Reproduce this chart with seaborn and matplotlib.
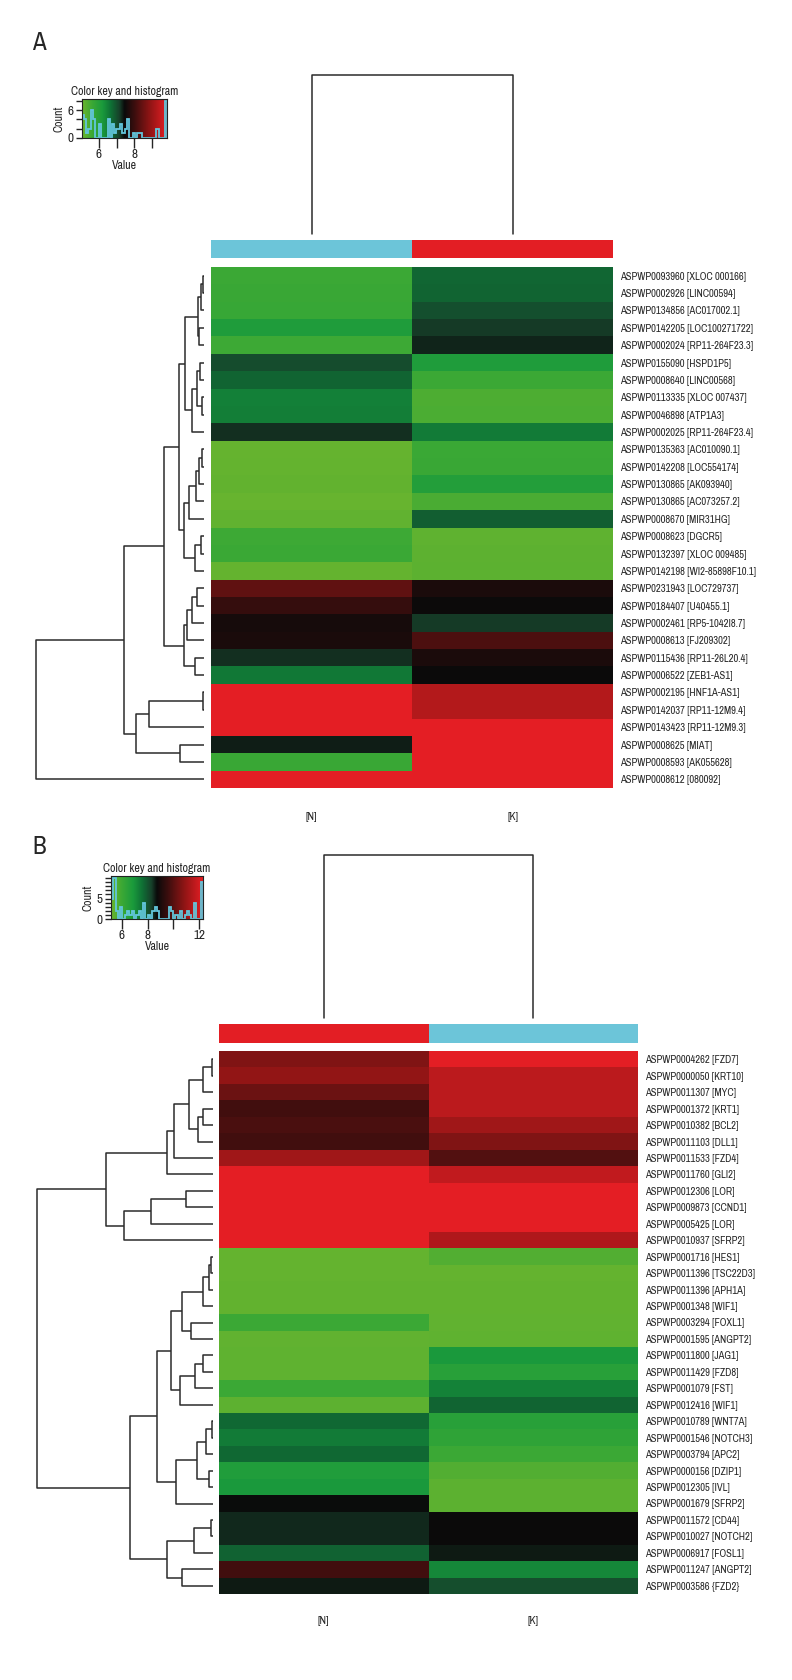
import numpy as np
import pandas as pd
import seaborn as sns
import matplotlib.pyplot as plt
from matplotlib.colors import LinearSegmentedColormap
from matplotlib import font_manager

# ---------------- data: panel A ----------------
labels_a = [
    "ASPWP0093960 [XLOC 000166]", "ASPWP0002926 [LINC00594]", "ASPWP0134856 [AC017002.1]",
    "ASPWP0142205 [LOC100271722]", "ASPWP0002024 [RP11-264F23.3]", "ASPWP0155090 [HSPD1P5]",
    "ASPWP0008640 [LINC00568]", "ASPWP0113335 [XLOC 007437]", "ASPWP0046898 [ATP1A3]",
    "ASPWP0002025 [RP11-264F23.4]", "ASPWP0135363 [AC010090.1]", "ASPWP0142208 [LOC554174]",
    "ASPWP0130865 [AK093940]", "ASPWP0130865 [AC073257.2]", "ASPWP0008670 [MIR31HG]",
    "ASPWP0008623 [DGCR5]", "ASPWP0132397 [XLOC 009485]", "ASPWP0142198 [WI2-85898F10.1]",
    "ASPWP0231943 [LOC729737]", "ASPWP0184407 [U40455.1]", "ASPWP0002461 [RP5-1042I8.7]",
    "ASPWP0008613 [FJ209302]", "ASPWP0115436 [RP11-26L20.4]", "ASPWP0006522 [ZEB1-AS1]",
    "ASPWP0002195 [HNF1A-AS1]", "ASPWP0142037 [RP11-12M9.4]", "ASPWP0143423 [RP11-12M9.3]",
    "ASPWP0008625 [MIAT]", "ASPWP0008593 [AK055628]", "ASPWP0008612 [080092]",
]
cols_a = ["[N]", "[K]"]
n_a = [5.62, 5.65, 5.68, 6.10, 5.60, 7.05, 6.80, 6.50, 6.52, 7.25,
       5.12, 5.14, 5.16, 5.10, 5.18, 5.60, 5.63, 5.15, 8.40, 7.95,
       7.60, 7.62, 7.25, 6.60, 9.86, 9.86, 9.86, 7.35, 5.66, 9.86]
k_a = [6.78, 6.80, 7.00, 7.20, 7.30, 6.10, 5.62, 5.40, 5.42, 6.55,
       5.64, 5.66, 6.05, 5.45, 6.85, 5.20, 5.22, 5.24, 7.64, 7.47,
       7.20, 8.20, 7.65, 7.45, 9.28, 9.28, 9.86, 9.86, 9.86, 9.86]
col_colors_a = ["#6cc5d9", "#e31e24"]
# row linkage: (child a, child b, height); leaves are rows in display order
link_a = [(0, 1, 3), (30, 2, 8), (3, 4, 16), (31, 32, 18), (5, 6, 12), (7, 8, 5),
          (34, 35, 22), (36, 9, 37), (33, 37, 57), (10, 11, 5), (39, 12, 16), (40, 13, 24),
          (41, 14, 44), (15, 16, 8), (43, 17, 27), (42, 44, 59), (38, 45, 74), (18, 19, 22),
          (47, 20, 37), (48, 21, 50), (22, 23, 28), (49, 50, 61), (46, 51, 120), (24, 25, 2),
          (53, 26, 165), (27, 28, 72), (54, 55, 204), (52, 56, 241), (57, 29, 505)]
col_link_a = [(0, 1, 1.0)]
range_a = (5.04, 9.86)

# ---------------- data: panel B ----------------
labels_b = [
    "ASPWP0004262 [FZD7]", "ASPWP0000050 [KRT10]", "ASPWP0011307 [MYC]", "ASPWP0001372 [KRT1]",
    "ASPWP0010382 [BCL2]", "ASPWP0011103 [DLL1]", "ASPWP0011533 [FZD4]", "ASPWP0011760 [GLI2]",
    "ASPWP0012306 [LOR]", "ASPWP0009873 [CCND1]", "ASPWP0005425 [LOR]", "ASPWP0010937 [SFRP2]",
    "ASPWP0001716 [HES1]", "ASPWP0011396 [TSC22D3]", "ASPWP0011396 [APH1A]", "ASPWP0001348 [WIF1]",
    "ASPWP0003294 [FOXL1]", "ASPWP0001595 [ANGPT2]", "ASPWP0011800 [JAG1]", "ASPWP0011429 [FZD8]",
    "ASPWP0001079 [FST]", "ASPWP0012416 [WIF1]", "ASPWP0010789 [WNT7A]", "ASPWP0001546 [NOTCH3]",
    "ASPWP0003794 [APC2]", "ASPWP0000156 [DZIP1]", "ASPWP0012305 [IVL]", "ASPWP0001679 [SFRP2]",
    "ASPWP0011572 [CD44]", "ASPWP0010027 [NOTCH2]", "ASPWP0006917 [FOSL1]", "ASPWP0011247 [ANGPT2]",
    "ASPWP0003586 {FZD2}",
]
cols_b = ["[N]", "[K]"]
n_b = [10.6, 10.9, 10.3, 9.65, 9.80, 9.65, 11.15, 12.3, 12.3, 12.3, 12.3, 12.3,
       5.30, 5.30, 5.32, 5.34, 6.00, 5.36, 5.38, 5.40, 6.00, 5.42,
       7.70, 7.40, 7.70, 6.70, 6.90, 8.70, 8.50, 8.50, 7.80, 9.65, 8.60]
k_b = [12.3, 11.6, 11.6, 11.6, 11.15, 10.6, 9.90, 11.7, 12.3, 12.3, 12.3, 11.4,
       5.60, 5.30, 5.32, 5.34, 5.36, 5.38, 6.90, 6.50, 7.30, 7.75,
       6.50, 6.30, 6.00, 5.60, 5.45, 5.45, 8.75, 8.75, 8.60, 7.20, 8.10]
col_colors_b = ["#e31e24", "#6cc5d9"]
link_b = [(0, 1, 2), (33, 2, 31), (3, 4, 31), (35, 5, 46), (34, 36, 73), (37, 6, 116),
          (38, 7, 138), (8, 9, 82), (40, 10, 186), (41, 11, 266), (39, 42, 321),
          (12, 13, 6), (44, 14, 13), (45, 15, 31), (16, 17, 66), (46, 47, 92),
          (18, 19, 31), (49, 20, 53), (50, 21, 98), (48, 51, 126), (22, 23, 2),
          (53, 24, 21), (25, 26, 13), (54, 55, 48), (56, 27, 110), (52, 57, 168),
          (28, 29, 6), (59, 30, 58), (31, 32, 92), (60, 61, 138), (58, 62, 250), (43, 63, 527)]
col_link_b = [(0, 1, 1.0)]
range_b = (5.15, 12.3)

# ---------------- style ----------------
sns.set_style("white")
fonts = font_manager.fontManager.ttflist
narrow = [f for f in fonts if "Narrow" in f.name or "Condensed" in f.name]
cond = [f for f in fonts if f.stretch in ("condensed", "semi-condensed", 500, 400)
        and f.name in ("DejaVu Sans", "Noto Sans", "Roboto", "Open Sans")]
LBL = 7.6
if narrow:
    plt.rcParams["font.family"] = [narrow[0].name, "DejaVu Sans"]
elif cond:
    plt.rcParams["font.family"] = [cond[0].name, "DejaVu Sans"]
    plt.rcParams["font.stretch"] = "condensed"
else:
    plt.rcParams["font.family"] = ["DejaVu Sans"]
    LBL = 6.3

cmap = LinearSegmentedColormap.from_list("gkr", [
    (0.0, "#6cb52e"), (0.12, "#3aa835"), (0.24, "#1a9a3c"), (0.34, "#0f7035"),
    (0.44, "#17402a"), (0.5, "#0a0a0a"), (0.62, "#3c0e0e"), (0.8, "#901515"),
    (1.0, "#e41e24")])
LINE = "#2b2b2b"
W, H = 792, 1680


def box(x0, y0, x1, y1):
    return [x0 / W, 1 - y1 / H, (x1 - x0) / W, (y1 - y0) / H]


def dendro_segments(links, n):
    pos = {i: i + 0.5 for i in range(n)}
    hgt = {i: 0.0 for i in range(n)}
    segs = []
    for k, (a, b, h) in enumerate(links):
        segs.append(([hgt[a], h, h, hgt[b]], [pos[a], pos[a], pos[b], pos[b]]))
        pos[n + k] = (pos[a] + pos[b]) / 2
        hgt[n + k] = h
    return segs, links[-1][2]


def panel(fig, letter, letter_xy, labels, cols, n_vals, k_vals, col_colors, link, col_link,
          vrange, key_box, key_xticks, key_xlabels, key_ystep, key_ylabels,
          cdend_box, cbar_box, heat_box, rdend_box, xpad):
    df = pd.DataFrame({cols[0]: n_vals, cols[1]: k_vals}, index=labels)
    vmin, vmax = vrange

    fig.text(letter_xy[0] / W, 1 - letter_xy[1] / H, letter, fontsize=18, ha="center", va="center")

    # heatmap
    ax = fig.add_axes(box(*heat_box))
    sns.heatmap(df, ax=ax, cmap=cmap, vmin=vmin, vmax=vmax, cbar=False,
                xticklabels=cols, yticklabels=labels)
    ax.yaxis.tick_right()
    ax.tick_params(axis="y", length=0, pad=5, labelsize=LBL, rotation=0)
    ax.tick_params(axis="x", length=0, pad=xpad, labelsize=LBL + 0.4, rotation=0)
    ax.set_xlabel("")
    ax.set_ylabel("")

    # column side colours
    axc = fig.add_axes(box(*cbar_box))
    for i, c in enumerate(col_colors):
        axc.axvspan(i, i + 1, color=c, lw=0)
    axc.set_xlim(0, len(col_colors))
    axc.axis("off")

    # row dendrogram
    axr = fig.add_axes(box(*rdend_box))
    segs, top = dendro_segments(link, len(labels))
    for hs, ps in segs:
        axr.plot(hs, ps, color=LINE, lw=1.1, clip_on=False, solid_capstyle="butt")
    axr.set_xlim(top, 0)
    axr.set_ylim(len(labels), 0)
    axr.axis("off")

    # column dendrogram
    axd = fig.add_axes(box(*cdend_box))
    segs, top = dendro_segments(col_link, len(cols))
    for hs, ps in segs:
        axd.plot(ps, hs, color=LINE, lw=1.1, clip_on=False)
    axd.set_xlim(0, len(cols))
    axd.set_ylim(0, top)
    axd.axis("off")

    # colour key with histogram
    axk = fig.add_axes(box(*key_box))
    allv = np.concatenate([n_vals, k_vals])
    counts, edges = np.histogram(allv, bins=np.linspace(vmin, vmax, 41))
    ytop = counts.max() / 0.95
    grad = np.linspace(vmin, vmax, 256)[np.newaxis, :]
    axk.imshow(grad, extent=[vmin, vmax, 0, ytop], aspect="auto", cmap=cmap,
               vmin=vmin, vmax=vmax)
    axk.stairs(counts, edges, color="#63c6dc", lw=1.3, baseline=0)
    axk.set_xlim(vmin, vmax)
    axk.set_ylim(0, ytop)
    axk.set_xticks(key_xticks)
    axk.set_xticklabels(key_xlabels)
    yt = np.arange(0, counts.max() + 1, key_ystep)
    axk.set_yticks(yt)
    axk.set_yticklabels([str(int(v)) if int(v) in key_ylabels else "" for v in yt])
    axk.tick_params(axis="x", direction="out", length=7, width=1, pad=1, labelsize=9.5,
                    bottom=True)
    axk.tick_params(axis="y", direction="out", length=4, width=1, pad=2, labelsize=9.5,
                    left=True)
    for s in axk.spines.values():
        s.set_linewidth(0.8)
        s.set_color("#222222")
    axk.set_title("Color key and histogram", fontsize=LBL + 1, pad=3)
    axk.set_xlabel("Value", fontsize=LBL + 1, labelpad=0)
    axk.set_ylabel("Count", fontsize=LBL + 1, labelpad=2)


fig = plt.figure(figsize=(W / 100, H / 100), dpi=100)

panel(fig, "A", (39, 43), labels_a, cols_a, n_a, k_a, col_colors_a, link_a, col_link_a,
      range_a, key_box=(82, 99, 167, 138), key_xticks=[6, 7, 8, 9],
      key_xlabels=["6", "", "8", ""], key_ystep=2, key_ylabels=[0, 6],
      cdend_box=(211, 75, 613, 234), cbar_box=(211, 240, 613, 258),
      heat_box=(211, 267, 613, 788), rdend_box=(36, 267, 204, 788), xpad=17)

panel(fig, "B", (39, 846), labels_b, cols_b, n_b, k_b, col_colors_b, link_b, col_link_b,
      range_b, key_box=(111, 876, 203, 919), key_xticks=[6, 8, 10, 12],
      key_xlabels=["6", "8", "", "12"], key_ystep=1, key_ylabels=[0, 5],
      cdend_box=(219, 855, 638, 1018), cbar_box=(219, 1024, 638, 1043),
      heat_box=(219, 1051, 638, 1594), rdend_box=(37, 1051, 213, 1594), xpad=16)

fig.savefig("out.png", dpi=100, facecolor="white")
